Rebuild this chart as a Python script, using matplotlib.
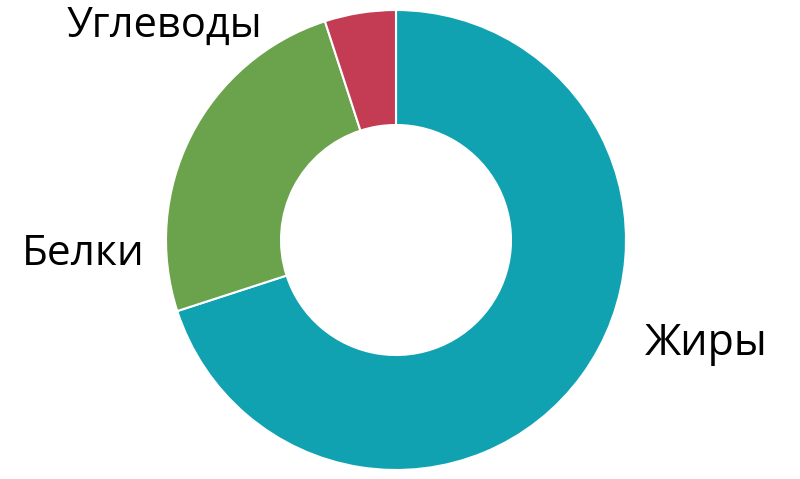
import matplotlib
matplotlib.use("Agg")
import matplotlib.pyplot as plt

categories = ["Жиры", "Белки", "Углеводы"]
values = [70, 25, 5]
colors = ["#10a2b1", "#6ba34c", "#c43b54"]

W, H = 800, 479
fig = plt.figure(figsize=(W / 100, H / 100), dpi=100)
ax = fig.add_axes([0, 0, 1, 1])

cx, cy = 396, H - 240
R = 230
ax.pie(values, colors=colors, startangle=90, counterclock=False,
       center=(cx, cy), radius=R, frame=True,
       wedgeprops=dict(width=R - 115, edgecolor="white", linewidth=1.5))
ax.set_xlim(0, W)
ax.set_ylim(0, H)
ax.set_aspect("equal")
ax.axis("off")

font = "Open Sans"
ax.text(645, H - 355, categories[0], fontsize=31, family=font, ha="left", va="baseline")
ax.text(22, H - 265, categories[1], fontsize=30.5, family=font, ha="left", va="baseline")
ax.text(67, H - 37, categories[2], fontsize=30, family=font, ha="left", va="baseline")

fig.savefig("out.png", dpi=100)
